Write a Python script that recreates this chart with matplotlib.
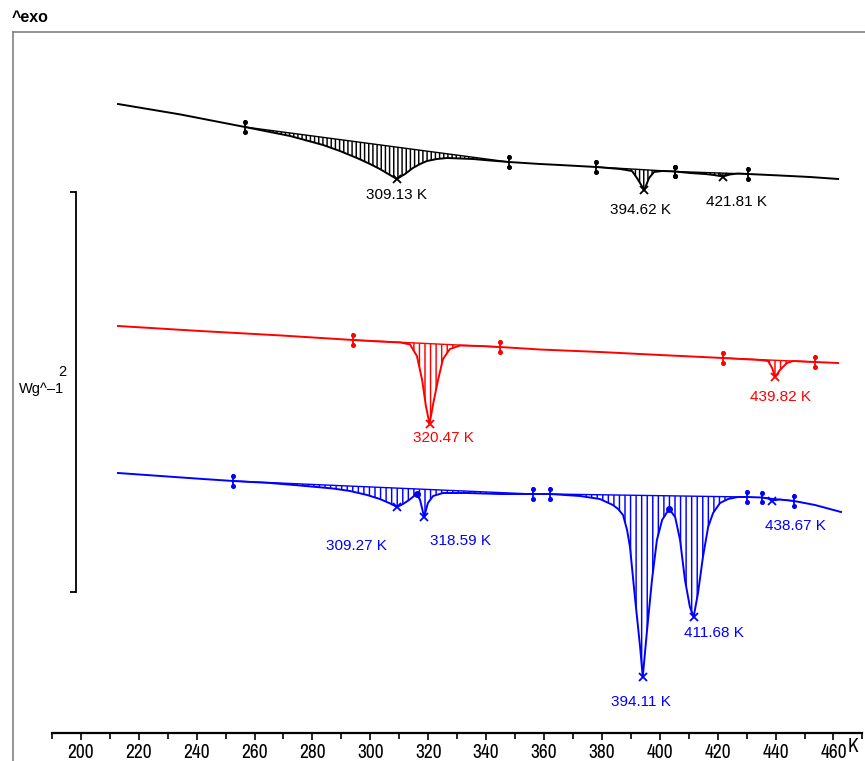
"""
DSC curves, three samples (black / red / blue), peaks hatched against baseline
"""
import numpy as np
import matplotlib
matplotlib.use("Agg")
import matplotlib.pyplot as plt
from matplotlib.lines import Line2D

# temperature (K) and heat flow (W/g)
black_T = [212.85, 234.3, 256.7, 261.9, 267.1, 272.3, 277.4, 283.7, 289.5, 295.4,
           299.9, 303.3, 306.8, 309.13, 312.0, 314.7, 317.2, 319.6, 323.0, 326.5,
           331.0, 335.5, 341.3, 347.9, 358.6, 365.5, 378.0, 386.3, 390.4, 392.1,
           394.62, 396.3, 398.0, 400.8, 405.3, 410.4, 415.6, 418.7, 421.81, 424.2,
           427.0, 430.5, 441.5, 451.9, 461.6]
black_hf = [0, -0.052, -0.115, -0.13, -0.145, -0.16, -0.18, -0.205, -0.235, -0.27,
            -0.30, -0.325, -0.355, -0.375, -0.35, -0.32, -0.30, -0.285, -0.275, -0.27,
            -0.2725, -0.275, -0.2825, -0.29, -0.30, -0.305, -0.315, -0.325, -0.335, -0.37,
            -0.43, -0.37, -0.34, -0.335, -0.3375, -0.345, -0.35, -0.355, -0.3625, -0.3525,
            -0.3475, -0.35, -0.3575, -0.365, -0.375]

red_T = [212.85, 241.2, 268.8, 294.0, 303.3, 310.3, 313.7, 316.1, 317.9, 319.2,
         320.47, 321.7, 323.4, 325.1, 327.5, 331.0, 337.9, 344.8, 358.6, 379.3,
         400.1, 421.8, 434.6, 437.4, 438.8, 439.82, 441.5, 443.9, 446.0, 453.6,
         461.6]
red_hf = [0, -0.025, -0.047, -0.07, -0.0775, -0.0825, -0.092, -0.15, -0.27, -0.40,
          -0.49, -0.39, -0.27, -0.165, -0.115, -0.0975, -0.10, -0.105, -0.1175, -0.13,
          -0.145, -0.16, -0.17, -0.175, -0.21, -0.255, -0.22, -0.185, -0.175, -0.18,
          -0.185]

blue_T = [212.85, 241.2, 252.6, 265.4, 275.7, 287.1, 293.0, 298.9, 303.3, 306.5,
          309.27, 311.3, 313.4, 315.1, 316.1, 317.2, 318.59, 319.9, 321.7, 325.1,
          333.4, 344.8, 356.2, 362.1, 372.4, 379.3, 383.8, 385.6, 387.3, 388.7,
          389.7, 391.4, 393.2, 394.11, 395.6, 397.3, 399.0, 400.8, 403.2, 405.3,
          407.0, 408.7, 410.4, 411.68, 413.2, 414.9, 416.7, 418.4, 420.8, 423.6,
          427.0, 430.1, 435.3, 437.4, 438.67, 441.5, 446.4, 453.6, 462.6]
blue_hf = [0, -0.029, -0.04, -0.05, -0.0625, -0.0775, -0.09, -0.11, -0.13, -0.15,
           -0.17, -0.155, -0.135, -0.115, -0.105, -0.135, -0.22, -0.15, -0.115, -0.10,
           -0.10, -0.105, -0.105, -0.105, -0.115, -0.13, -0.16, -0.18, -0.21, -0.285,
           -0.37, -0.62, -0.87, -1.02, -0.785, -0.535, -0.335, -0.235, -0.18, -0.22,
           -0.335, -0.535, -0.67, -0.72, -0.60, -0.42, -0.27, -0.20, -0.15, -0.13,
           -0.12, -0.12, -0.1225, -0.1275, -0.1375, -0.1325, -0.14, -0.16, -0.195]

# integration limits (K) and peak temperatures (K)
black_limits = [(256.7, 347.9), (378.0, 405.3), (405.3, 430.5)]
red_limits = [(294.0, 344.8), (421.8, 453.6)]
blue_limits = [(252.6, 356.2), (362.1, 430.1), (435.3, 446.4)]
black_peaks = [309.13, 394.62, 421.81]
red_peaks = [320.47, 439.82]
blue_peaks = [309.27, 318.59, 394.11, 411.68, 438.67]
blue_splits = [316.1, 403.2]

# label positions in pixels (layout only)
black_lbl = [(397, 195), (641, 210), (737, 202)]
red_lbl = [(443, 438), (781, 397)]
blue_lbl = [(356, 546), (461, 541), (641, 702), (714, 633), (795, 526)]

W, H = 865, 761
fig = plt.figure(figsize=(W / 100, H / 100), dpi=100)
plt.rcParams['font.family'] = ['Liberation Sans', 'DejaVu Sans']
plt.rcParams['hatch.linewidth'] = 1.05
narrow = ['Archivo Narrow', 'Liberation Sans']

x0_px, px_per_K = 80.8, 2.895          # 200 K sits at 80.8 px
left_px = x0_px - 10 * px_per_K
right_px = x0_px + 270 * px_per_K
ax = fig.add_axes([left_px / W, (H - 733) / H, (right_px - left_px) / W, (733 - 32) / H])
ax.set_xlim(190, 470)
ax.set_ylim(-733 / 200, -32 / 200)

curves = [
    (black_T, black_hf, -0.52, 'black', black_limits, black_peaks, black_lbl, '||||'),
    (red_T, red_hf, -1.63, '#ff0000', red_limits, red_peaks, red_lbl, '|||'),
    (blue_T, blue_hf, -2.365, '#0000ff', blue_limits, blue_peaks, blue_lbl, '|||'),
]

bar = 0.028
for T, hf, off, col, limits, peaks, lbls, hatch in curves:
    T = np.array(T)
    y = np.array(hf) + off
    ax.plot(T, y, color=col, lw=1.4, zorder=3)
    for a, b in limits:
        ya, yb = np.interp([a, b], T, y)
        base = np.interp(T, [a, b], [ya, yb])
        m = (T >= a) & (T <= b)
        ax.fill_between(T[m], y[m], base[m], facecolor='none', edgecolor=col,
                        hatch=hatch, linewidth=0, zorder=2)
        ax.plot([a, b], [ya, yb], color=col, lw=1.0, zorder=3)
        for t, yy in ((a, ya), (b, yb)):
            ax.plot([t, t], [yy - bar, yy + bar], color=col, lw=1.3, zorder=4)
            ax.plot([t, t], [yy - bar * 0.85, yy + bar * 0.85], 'o', color=col,
                    ms=2.6, zorder=4)
    yp = np.interp(peaks, T, y)
    ax.plot(peaks, yp, 'x', color=col, ms=5.5, mew=1.3, zorder=5)
    for p, (lx, ly) in zip(peaks, lbls):
        fig.text(lx / W, 1 - ly / H, f"{p:.2f} K", color=col, fontsize=11,
                 ha='center', va='center')
    if col == '#0000ff':
        ys = np.interp(blue_splits, T, y)
        ax.plot(blue_splits, ys, 'o', color=col, ms=4, zorder=5)

# axes: bottom = temperature axis, left spine = 2 W/g scale bar
for s in ['top', 'right']:
    ax.spines[s].set_visible(False)
ax.spines['bottom'].set_linewidth(1.6)
ax.spines['left'].set_position(('axes', (76 - left_px) / (right_px - left_px)))
ax.spines['left'].set_bounds(-592 / 200, -192 / 200)
ax.spines['left'].set_linewidth(1.3)
ax.set_yticks([-592 / 200, -192 / 200])
ax.set_yticklabels(['', ''])
ax.tick_params(axis='y', direction='out', length=4, width=1.3)

ax.set_xticks(range(200, 461, 20))
ax.set_xticks(range(190, 471, 20), minor=True)
ax.set_xticklabels([str(t) for t in range(200, 461, 20)])
ax.tick_params(axis='x', which='major', direction='out', length=5, width=1.2,
               pad=2, labelsize=14)
ax.tick_params(axis='x', which='minor', direction='out', length=4, width=1.2)
for lab in ax.get_xticklabels():
    lab.set_family(narrow)
fig.text(853 / W, 1 - 747 / H, 'K', fontsize=14, ha='center', va='center',
         family=narrow)

# scale bar label and outer frame
fig.text(66 / W, 1 - 372 / H, '2', fontsize=10.5, ha='right', va='center')
fig.text(64 / W, 1 - 389 / H, 'Wg^\u20131', fontsize=10.5, ha='right', va='center')
fig.text(12 / W, 1 - 18 / H, '^exo', fontsize=11.5, fontweight='bold',
         ha='left', va='center')
fig.add_artist(Line2D([13 / W, 13 / W], [0, 1 - 32 / H], color='#808080', lw=1.2,
                      transform=fig.transFigure))
fig.add_artist(Line2D([13 / W, 1], [1 - 32 / H, 1 - 32 / H], color='#808080', lw=1.2,
                      transform=fig.transFigure))

fig.savefig('out.png', dpi=100)
